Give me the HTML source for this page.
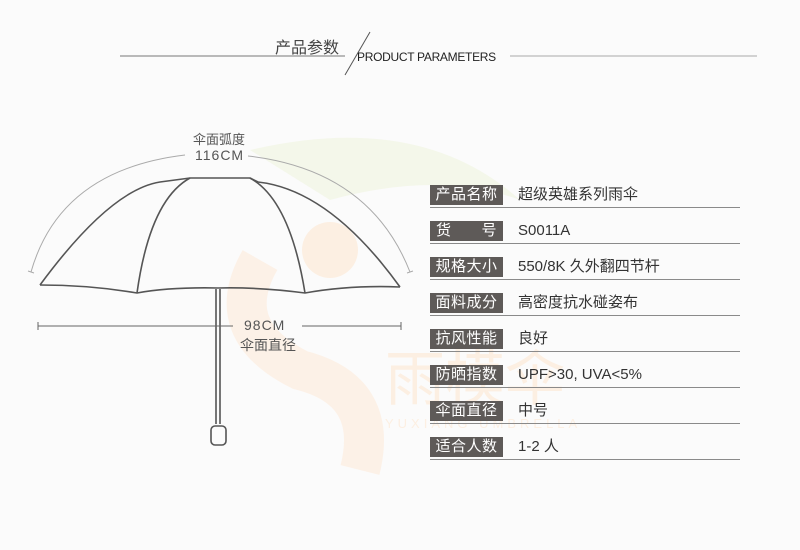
<!DOCTYPE html>
<html><head><meta charset="utf-8"><style>
body{margin:0;width:800px;height:550px;background:#fbfbfb;position:relative;overflow:hidden;font-family:"Liberation Sans","Noto Sans CJK SC",sans-serif}
.t{position:absolute;white-space:nowrap}
.lab{position:absolute;left:430px;width:73px;height:20px;background:#5e5a58;color:#fff;font-size:15px;line-height:20px;text-align:center;letter-spacing:0.5px}
.val{position:absolute;left:518px;font-size:15px;color:#333;line-height:20px}
.ul{position:absolute;left:430px;width:310px;height:1px;background:#8a8a8a}
</style></head><body>
<svg width="800" height="550" style="position:absolute;left:0;top:0">
<!-- watermark -->
<path d="M250 150 Q420 110 520 200 Q440 170 330 200 Z" fill="#f1f5e2" opacity="0.7"/>
<path d="M260 260 Q220 330 300 370 Q380 390 360 470" fill="none" stroke="#fcefe2" stroke-width="40" opacity="0.8"/>
<circle cx="330" cy="250" r="28" fill="#fcefe2"/>
<text x="385" y="400" font-size="60" fill="#fcefe2" font-family="Noto Sans CJK SC">雨模伞</text>
<text x="385" y="428" font-size="13" fill="#fcefe2" letter-spacing="4">YUXIANG UMBRELLA</text>
<!-- header -->
<line x1="120" y1="56" x2="345" y2="56" stroke="#777" stroke-width="1"/>
<line x1="370" y1="32" x2="345" y2="75" stroke="#555" stroke-width="1"/>
<line x1="510" y1="56" x2="757" y2="56" stroke="#aaa" stroke-width="1"/>
<!-- arc dimension -->
<path d="M31 272 Q60 170 185 155" fill="none" stroke="#aaa" stroke-width="1"/>
<path d="M248 156 Q370 170 410 272" fill="none" stroke="#aaa" stroke-width="1"/>
<line x1="28" y1="271" x2="34" y2="273" stroke="#aaa"/>
<line x1="407" y1="273" x2="413" y2="271" stroke="#aaa"/>
<!-- canopy -->
<g fill="none" stroke="#555" stroke-width="1.6">
<path d="M40 285 Q110 190 160 182 L190 178 L250 178 L258 182 Q330 190 400 287"/>
<path d="M190 178 Q150 200 137 293"/>
<path d="M250 178 Q290 200 305 293"/>
<path d="M40 285 Q90 285 137 293 Q170 287 218 288 Q260 287 305 293 Q350 285 400 287"/>
<line x1="216" y1="289" x2="216" y2="424"/>
<line x1="220" y1="289" x2="220" y2="424"/>
<rect x="211" y="426" width="15" height="19" rx="4"/>
</g>
<!-- 98cm line -->
<line x1="38" y1="326" x2="233" y2="326" stroke="#666"/>
<line x1="302" y1="326" x2="401" y2="326" stroke="#666"/>
<line x1="38" y1="322" x2="38" y2="330" stroke="#666"/>
<line x1="401" y1="322" x2="401" y2="330" stroke="#666"/>
</svg>
<div class="t" style="left:275px;top:34px;font-size:16px;color:#444">产品参数</div>
<div class="t" style="left:357px;top:50px;font-size:12px;color:#222;letter-spacing:-0.3px">PRODUCT PARAMETERS</div>
<div class="t" style="left:193px;top:129px;font-size:13px;color:#555">伞面弧度</div>
<div class="t" style="left:195px;top:147px;font-size:14px;color:#555;letter-spacing:1px">116CM</div>
<div class="t" style="left:244px;top:317px;font-size:14px;color:#555;letter-spacing:1px">98CM</div>
<div class="t" style="left:240px;top:335px;font-size:14px;color:#555">伞面直径</div>

<div class="lab" style="top:185px">产品名称</div><div class="val" style="top:185px">超级英雄系列雨伞</div><div class="ul" style="top:207px"></div>
<div class="lab" style="top:221px;text-align:justify;text-align-last:justify;padding:0 6px;width:61px">货 号</div><div class="val" style="top:221px">S0011A</div><div class="ul" style="top:243px"></div>
<div class="lab" style="top:257px">规格大小</div><div class="val" style="top:257px">550/8K 久外翻四节杆</div><div class="ul" style="top:279px"></div>
<div class="lab" style="top:293px">面料成分</div><div class="val" style="top:293px">高密度抗水碰姿布</div><div class="ul" style="top:315px"></div>
<div class="lab" style="top:329px">抗风性能</div><div class="val" style="top:329px">良好</div><div class="ul" style="top:351px"></div>
<div class="lab" style="top:365px">防晒指数</div><div class="val" style="top:365px">UPF&gt;30, UVA&lt;5%</div><div class="ul" style="top:387px"></div>
<div class="lab" style="top:401px">伞面直径</div><div class="val" style="top:401px">中号</div><div class="ul" style="top:423px"></div>
<div class="lab" style="top:437px">适合人数</div><div class="val" style="top:437px">1-2 人</div><div class="ul" style="top:459px"></div>
</body></html>
